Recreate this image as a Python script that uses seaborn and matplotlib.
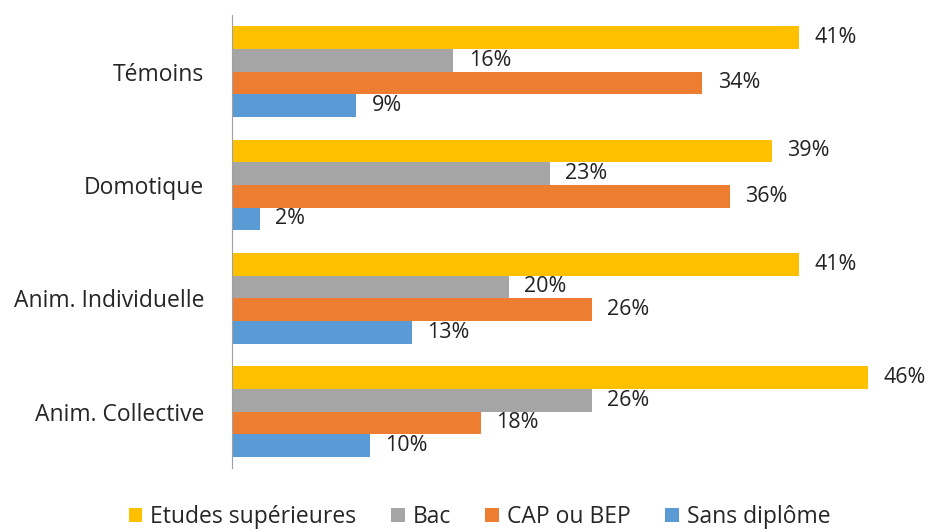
import matplotlib
matplotlib.use("Agg")
import matplotlib.pyplot as plt
import pandas as pd
import seaborn as sns

categories = ["Témoins", "Domotique", "Anim. Individuelle", "Anim. Collective"]
series = ["Etudes supérieures", "Bac", "CAP ou BEP", "Sans diplôme"]
etudes_sup = [41, 39, 41, 46]
bac = [16, 23, 20, 26]
cap_bep = [34, 36, 26, 18]
sans_diplome = [9, 2, 13, 10]

colors = ["#FFC000", "#A5A5A5", "#ED7D31", "#5B9BD5"]

rows = []
for name, values in zip(series, [etudes_sup, bac, cap_bep, sans_diplome]):
    for cat, v in zip(categories, values):
        rows.append({"categorie": cat, "serie": name, "valeur": v})
df = pd.DataFrame(rows)

sns.set_style("white")
plt.rcParams["font.family"] = ["Open Sans", "DejaVu Sans"]

fig = plt.figure(figsize=(9.35, 5.32), dpi=100)
ax = fig.add_axes([0.248, 0.12, 0.74, 0.852])

sns.barplot(
    data=df, x="valeur", y="categorie", hue="serie", orient="h",
    order=categories, hue_order=series, palette=colors, width=0.8,
    saturation=1, ax=ax, legend=True, linewidth=0, edgecolor="none",
)

for container in ax.containers:
    ax.bar_label(container, fmt="%d%%", padding=11, fontsize=15.5, color="#222222")

ax.set_xlim(0, 50)
ax.set_xlabel("")
ax.set_ylabel("")
ax.set_xticks([])
ax.tick_params(axis="y", length=0, labelsize=16.5, pad=20)
for side in ["top", "right", "bottom"]:
    ax.spines[side].set_visible(False)
ax.spines["left"].set_color("#A0A0A0")

handles, labels = ax.get_legend_handles_labels()
ax.legend(
    handles, labels, loc="center", bbox_to_anchor=(0.358, -0.108),
    ncol=4, frameon=False, fontsize=16.5, handlelength=0.6, handleheight=0.6,
    columnspacing=1.5, handletextpad=0.35,
)

fig.savefig("out.png", dpi=100)
